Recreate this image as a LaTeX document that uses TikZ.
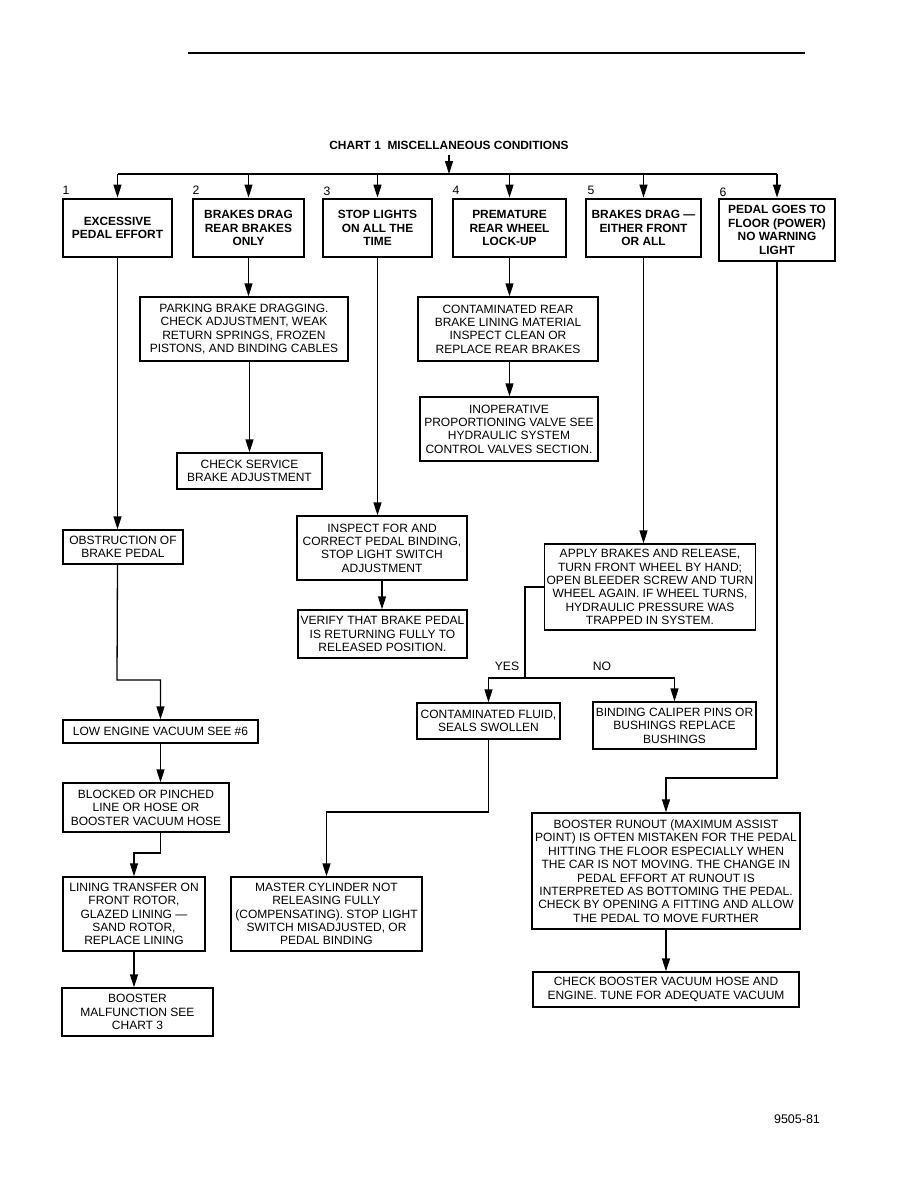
\documentclass[tikz,border=0pt]{standalone}
\usepackage{fontspec}
\setmainfont{Liberation Sans}
\usetikzlibrary{arrows.meta}
\begin{document}
\begin{tikzpicture}[x=1pt,y=-1pt,
  every node/.style={font=\fontsize{12}{13.4}\selectfont, align=center, inner sep=0pt},
  bx/.style 2 args={draw, line width=1.3pt, minimum width=#1pt, minimum height=#2pt},
  hbx/.style 2 args={draw, line width=2.8pt, minimum width=#1pt, minimum height=#2pt, font=\fontsize{11.9}{13.4}\selectfont\bfseries},
  lbl/.style={font=\fontsize{12.2}{13.4}\selectfont},
  ln/.style={line width=1.3pt},
  arr/.style={line width=1.3pt, -{Triangle[length=13pt,width=8pt]}}]
\path[fill=white] (0,0) rectangle (918,1188);
\useasboundingbox (0,0) rectangle (918,1188);
% top rule
\coordinate (r1) at (188,53);
\coordinate (r2) at (805,53);
\draw[line width=2.6pt] (r1) -- (r2);
% title
\node[font=\fontsize{11.9}{13.4}\selectfont\bfseries] (title) at (449,145) {CHART 1\ \ MISCELLANEOUS CONDITIONS};
\coordinate (tA) at (449,155);
\coordinate (bus) at (449,174);
\draw[arr] (tA) -- (bus);
% top boxes
\node[hbx={109}{58}] (b1) at (117.5,228) {EXCESSIVE\\PEDAL EFFORT};
\node[hbx={111}{58}] (b2) at (248.5,228) {BRAKES DRAG\\REAR BRAKES\\ONLY};
\node[hbx={109}{58}] (b3) at (377.5,228) {STOP LIGHTS\\ON ALL THE\\TIME};
\node[hbx={113}{58}] (b4) at (509.5,228) {PREMATURE\\REAR WHEEL\\LOCK-UP};
\node[hbx={115}{58}] (b5) at (643.5,228) {BRAKES DRAG —\\EITHER FRONT\\OR ALL};
\node[hbx={116}{62}] (b6) at (777,230) {PEDAL GOES TO\\FLOOR (POWER)\\NO WARNING\\LIGHT};
\node[lbl] (n1) at (66,190) {1};
\node[lbl] (n2) at (196,190) {2};
\node[lbl] (n3) at (327,191) {3};
\node[lbl] (n4) at (456,190) {4};
\node[lbl] (n5) at (591,190) {5};
\node[lbl] (n6) at (723,192) {6};
\draw[ln] (b1.north |- bus) -- (b6.north |- bus);
\foreach \i in {1,...,6} { \draw[arr] (b\i.north |- bus) -- (b\i.north); }
% column 2
\node[bx={208}{64}] (p1) at (244,329) {PARKING BRAKE DRAGGING.\\CHECK ADJUSTMENT, WEAK\\RETURN SPRINGS, FROZEN\\PISTONS, AND BINDING CABLES};
\node[bx={145}{36}] (cs) at (249.5,471) {CHECK SERVICE\\BRAKE ADJUSTMENT};
\draw[arr] (b2.south) -- (b2.south |- p1.north);
\draw[arr] (cs.north |- p1.south) -- (cs.north);
% column 4
\node[bx={180}{64}] (c4) at (508,329) {CONTAMINATED REAR\\BRAKE LINING MATERIAL\\INSPECT CLEAN OR\\REPLACE REAR BRAKES};
\node[bx={178}{64}] (inop) at (509,429) {INOPERATIVE\\PROPORTIONING VALVE SEE\\HYDRAULIC SYSTEM\\CONTROL VALVES SECTION.};
\draw[arr] (b4.south) -- (b4.south |- c4.north);
\draw[arr] (b4.south |- c4.south) -- (b4.south |- inop.north);
% column 3
\node[bx={170}{64}] (insp) at (382,548) {INSPECT FOR AND\\CORRECT PEDAL BINDING,\\STOP LIGHT SWITCH\\ADJUSTMENT};
\node[bx={169}{48}] (ver) at (382.5,634) {VERIFY THAT BRAKE PEDAL\\IS RETURNING FULLY TO\\RELEASED POSITION.};
\draw[arr] (b3.south) -- (b3.south |- insp.north);
\draw[arr] (insp.south) -- (insp.south |- ver.north);
% column 1
\node[bx={120}{34}] (obs) at (123,547) {OBSTRUCTION OF\\BRAKE PEDAL};
\node[bx={195}{23}] (low) at (160.5,731.5) {LOW ENGINE VACUUM SEE \#6};
\node[bx={166}{49}] (blk) at (146,807.5) {BLOCKED OR PINCHED\\LINE OR HOSE OR\\BOOSTER VACUUM HOSE};
\node[bx={142}{74}] (lin) at (134,914) {LINING TRANSFER ON\\FRONT ROTOR,\\GLAZED LINING —\\SAND ROTOR,\\REPLACE LINING};
\node[bx={151}{48}] (bm) at (137.5,1012) {BOOSTER\\MALFUNCTION SEE\\CHART 3};
\draw[arr] (b1.south) -- (b1.south |- obs.north);
\coordinate (k1) at (117,680);
\draw[arr] (b1.south |- obs.south) -- (k1) -| (low.north);
\draw[arr] (low.south) -- (low.south |- blk.north);
\coordinate (k2) at (160.5,853);
\draw[arr] (low.south |- blk.south) -- (k2) -| (lin.north);
\draw[arr] (lin.south) -- (lin.south |- bm.north);
% column 5
\node[bx={211}{86}] (ap) at (650,587) {APPLY BRAKES AND RELEASE,\\TURN FRONT WHEEL BY HAND;\\OPEN BLEEDER SCREW AND TURN\\WHEEL AGAIN. IF WHEEL TURNS,\\HYDRAULIC PRESSURE WAS\\TRAPPED IN SYSTEM.};
\draw[arr] (b5.south) -- (b5.south |- ap.north);
\node[bx={143}{36}] (cf) at (488.5,721) {CONTAMINATED FLUID,\\SEALS SWOLLEN};
\node[bx={163}{47}] (bc) at (674.5,725.5) {BINDING CALIPER PINS OR\\BUSHINGS REPLACE\\BUSHINGS};
\coordinate (yn) at (525,678);
\draw[ln] (ap.west) -| (yn);
\draw[arr] (yn) -| (cf.north);
\draw[arr] (yn) -| (bc.north);
\node[lbl] (yes) at (507,666) {YES};
\node[lbl] (no) at (602,666) {NO};
\node[bx={191}{74}] (mc) at (326.5,914) {MASTER CYLINDER NOT\\RELEASING FULLY\\(COMPENSATING). STOP LIGHT\\SWITCH MISADJUSTED, OR\\PEDAL BINDING};
\coordinate (k3) at (488.5,812);
\draw[arr] (cf.south) -- (k3) -| (mc.north);
% column 6
\node[bx={268}{116}] (br) at (666,871) {BOOSTER RUNOUT (MAXIMUM ASSIST\\POINT) IS OFTEN MISTAKEN FOR THE PEDAL\\HITTING THE FLOOR ESPECIALLY WHEN\\THE CAR IS NOT MOVING. THE CHANGE IN\\PEDAL EFFORT AT RUNOUT IS\\INTERPRETED AS BOTTOMING THE PEDAL.\\CHECK BY OPENING A FITTING AND ALLOW\\THE PEDAL TO MOVE FURTHER};
\node[bx={266}{35}] (cb) at (666,989.5) {CHECK BOOSTER VACUUM HOSE AND\\ENGINE. TUNE FOR ADEQUATE VACUUM};
\coordinate (k4) at (777,778);
\draw[arr] (b6.south) -- (k4) -| (br.north);
\draw[arr] (br.south) -- (br.south |- cb.north);
% figure number
\node[font=\fontsize{12.5}{14}\selectfont] (fig) at (797,1119) {9505-81};
\end{tikzpicture}
\end{document}
